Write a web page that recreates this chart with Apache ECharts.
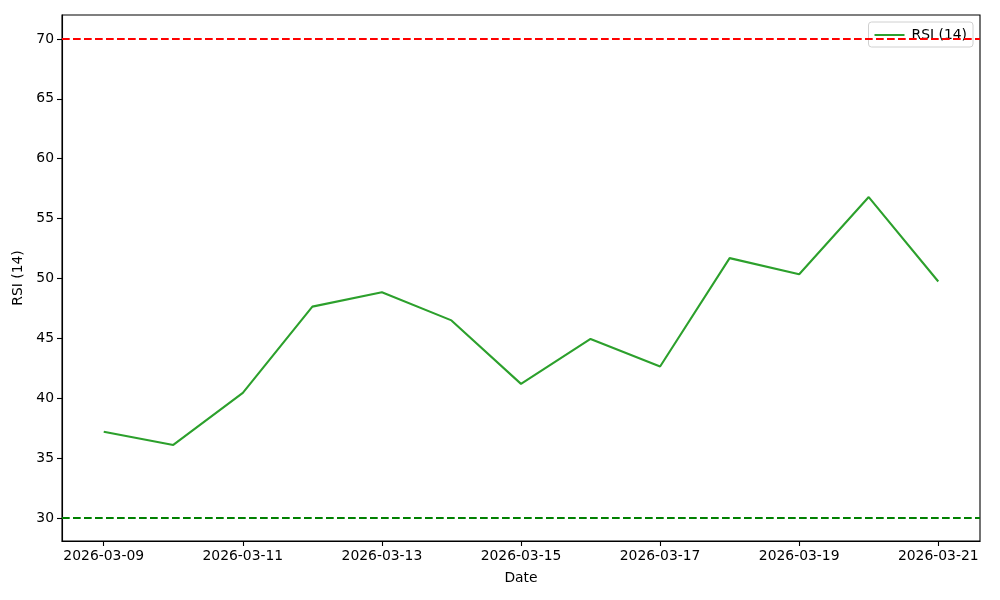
<!DOCTYPE html>
<html>
<head>
<meta charset="utf-8">
<script src="https://cdn.jsdelivr.net/npm/echarts@6/dist/echarts.min.js"></script>
<style>html,body{margin:0;padding:0;background:#fff}#c{width:1000px;height:600px}</style>
</head>
<body>
<div id="c"></div>
<script>
const dates = ['2026-03-09','2026-03-10','2026-03-11','2026-03-12','2026-03-13','2026-03-14','2026-03-15','2026-03-16','2026-03-17','2026-03-18','2026-03-19','2026-03-20','2026-03-21'];
const rsi = [37.2, 36.1, 40.45, 47.65, 48.85, 46.5, 41.2, 44.95, 42.65, 51.7, 50.35, 56.8, 49.75];
const xTickIdx = [0, 2, 4, 6, 8, 10, 12];
const yTicks = [30, 35, 40, 45, 50, 55, 60, 65, 70];
const overbought = 70;
const oversold = 30;

const font = 'DejaVu Sans';
const chart = echarts.init(document.getElementById('c'));
chart.setOption({
  animation: false,
  grid: { left: 62, right: 20, top: 15, bottom: 59, show: true, borderColor: '#000', borderWidth: 1.1, backgroundColor: 'transparent' },
  legend: {
    right: 27, top: 22,
    padding: [6, 6, 5, 6],
    borderColor: '#d0d0d0', borderWidth: 1, borderRadius: 3,
    backgroundColor: 'rgba(255,255,255,0.8)',
    itemWidth: 30, itemHeight: 2, itemGap: 8,
    icon: 'rect',
    textStyle: { fontFamily: font, fontSize: 13.9, color: '#000', padding: [0, 0, 0, 2] },
    data: ['RSI (14)']
  },
  xAxis: {
    type: 'value', min: -0.6, max: 12.6,
    name: 'Date', nameLocation: 'middle', nameGap: 30,
    nameTextStyle: { fontFamily: font, fontSize: 13.9, color: '#000' },
    splitLine: { show: false },
    axisLine: { show: true, onZero: false, lineStyle: { color: '#000', width: 1.1 } },
    axisTick: { show: true, inside: false, length: 5, lineStyle: { color: '#000', width: 1.1 }, customValues: xTickIdx },
    axisLabel: { fontFamily: font, fontSize: 13.9, color: '#000', margin: 8, customValues: xTickIdx, formatter: v => dates[Math.round(v)] }
  },
  yAxis: {
    type: 'value', min: 28.08, max: 72.0,
    name: 'RSI (14)', nameLocation: 'middle', nameGap: 36, nameRotate: 90,
    nameTextStyle: { fontFamily: font, fontSize: 13.9, color: '#000' },
    splitLine: { show: false },
    axisLine: { show: true, onZero: false, lineStyle: { color: '#000', width: 1.1 } },
    axisTick: { show: true, inside: false, length: 5, lineStyle: { color: '#000', width: 1.1 }, customValues: yTicks },
    axisLabel: { fontFamily: font, fontSize: 13.9, color: '#000', margin: 8, customValues: yTicks, formatter: v => String(Math.round(v)) }
  },
  series: [{
    name: 'RSI (14)', type: 'line',
    data: rsi.map((v, i) => [i, v]),
    showSymbol: false, symbol: 'none',
    color: '#2ca02c',
    lineStyle: { color: '#2ca02c', width: 2.08 },
    markLine: {
      silent: true, symbol: 'none', label: { show: false },
      data: [
        { yAxis: overbought, lineStyle: { color: '#ff0000', type: [7.7, 3.3], width: 2.08 } },
        { yAxis: oversold, lineStyle: { color: '#008000', type: [7.7, 3.3], width: 2.08 } }
      ]
    },
    z: 1
  }]
});
</script>
</body>
</html>
